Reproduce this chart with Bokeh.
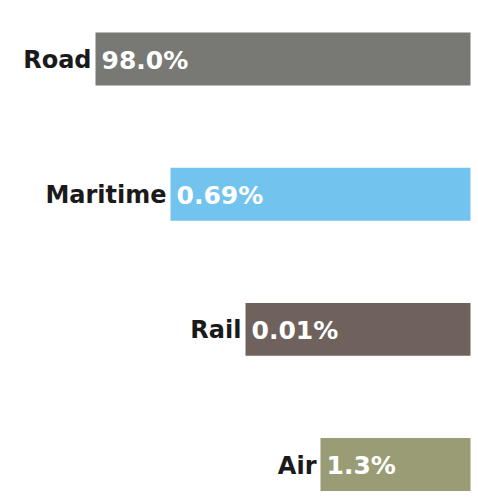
from bokeh.plotting import figure
from bokeh.models import Range1d, ColumnDataSource
from bokeh.core.properties import value
from bokeh.embed import file_html
from bokeh.resources import INLINE

modes = ["Road", "Maritime", "Rail", "Air"]
shares = ["98.0%", "0.69%", "0.01%", "1.3%"]
bar_lengths = [5, 4, 3, 2]
colors = ["#787975", "#72c4ef", "#6f625c", "#999c74"]
positions = [0, 1, 2, 3]

src = ColumnDataSource(dict(
    y=positions,
    left=[-l for l in bar_lengths],
    right=[0] * len(bar_lengths),
    mode=modes,
    share=shares,
    color=colors,
))

p = figure(width=478, height=500, output_backend="svg", toolbar_location=None,
           x_range=Range1d(-470 / 75, 8 / 75),
           y_range=Range1d(3.266, -0.433),
           min_border=0, outline_line_color=None)
p.axis.visible = False
p.grid.visible = False
p.background_fill_color = "white"
p.border_fill_color = "white"

p.hbar(y="y", left="left", right="right", height=0.392, color="color",
       line_color=None, source=src)

p.text(x="left", y="y", text="mode", source=src, x_offset=-4, y_offset=1,
       text_align="right", text_baseline="middle",
       text_font=value("DejaVu Sans"), text_font_style="bold",
       text_font_size="24px", text_color="#1a1a1a")
p.text(x="left", y="y", text="share", source=src, x_offset=6, y_offset=1,
       text_align="left", text_baseline="middle",
       text_font=value("DejaVu Sans"), text_font_style="bold",
       text_font_size="25px", text_color="white")

open("out.html", "w").write(file_html(p, INLINE))
